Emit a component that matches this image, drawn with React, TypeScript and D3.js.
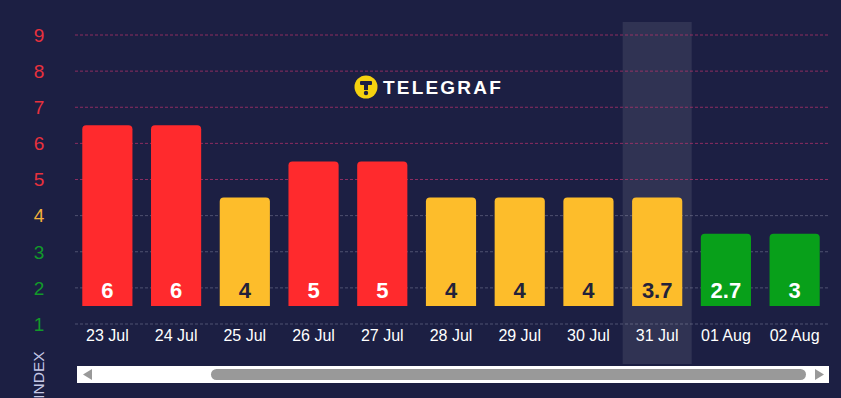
import React, { useEffect, useRef } from "react";
import * as d3 from "d3";

const dates = ["23 Jul", "24 Jul", "25 Jul", "26 Jul", "27 Jul", "28 Jul", "29 Jul", "30 Jul", "31 Jul", "01 Aug", "02 Aug"];
const values = [6, 6, 4, 5, 5, 4, 4, 4, 3.7, 2.7, 3];
const levels = [6, 6, 4, 5, 5, 4, 4, 4, 4, 3, 3];
const yTicks = [1, 2, 3, 4, 5, 6, 7, 8, 9];
const highlighted = "31 Jul";

const RED = "#ff2a2d";
const YELLOW = "#fdbd2b";
const GREEN = "#08a01a";

function levelColor(l: number) {
  if (l >= 5) return RED;
  if (l >= 4) return YELLOW;
  return GREEN;
}
function tickColor(t: number) {
  if (t >= 5) return "#e8313d";
  if (t >= 4) return "#f3b13a";
  return "#129a2a";
}

const W = 841;
const H = 398;

export default function App() {
  const ref = useRef<SVGSVGElement>(null);

  useEffect(() => {
    if (!ref.current) return;
    const svg = d3.select(ref.current);
    svg.selectAll("*").remove();

    const font = "Arial, 'Liberation Sans', sans-serif";

    svg.append("rect").attr("width", W).attr("height", H).attr("fill", "#1c1f43");

    const x = d3.scaleBand().domain(dates).range([73, 829]).paddingInner(0.27).paddingOuter(0.135);
    const y = d3.scaleLinear().domain([1, 9]).range([324, 35]);

    // highlight band
    const hx = x(highlighted)! + x.bandwidth() / 2;
    svg.append("rect")
      .attr("x", hx - 34.5).attr("width", 69)
      .attr("y", 22).attr("height", 342)
      .attr("fill", "rgba(255,255,255,0.09)");

    // grid lines
    svg.append("g").selectAll("line").data(yTicks).enter().append("line")
      .attr("x1", 75).attr("x2", 830)
      .attr("y1", (d) => y(d)).attr("y2", (d) => y(d))
      .attr("stroke", (d) => (d >= 5 ? "rgba(190,50,110,0.7)" : "rgba(200,200,220,0.3)"))
      .attr("stroke-width", 1)
      .attr("stroke-dasharray", "3,2");

    // y labels
    svg.append("g").selectAll("text").data(yTicks).enter().append("text")
      .attr("x", 39).attr("y", (d) => y(d))
      .attr("dy", "0.36em")
      .attr("text-anchor", "middle")
      .attr("fill", (d) => tickColor(d))
      .attr("font-family", font).attr("font-size", 19)
      .text((d) => d);

    // INDEX label
    svg.append("text")
      .attr("transform", `translate(44, 375) rotate(-90)`)
      .attr("text-anchor", "middle")
      .attr("fill", "#c5c8e6")
      .attr("font-family", font).attr("font-size", 15.5)
      .text("INDEX");

    // logo
    const logo = svg.append("g").attr("transform", "translate(366, 87)");
    logo.append("circle").attr("r", 11.5).attr("fill", "#f5d20f");
    logo.append("rect").attr("x", -6).attr("y", -6).attr("width", 12).attr("height", 4).attr("rx", 1).attr("fill", "#1c1f43");
    logo.append("rect").attr("x", -2).attr("y", -3).attr("width", 4).attr("height", 6).attr("fill", "#1c1f43");
    logo.append("circle").attr("cy", 6).attr("r", 2.2).attr("fill", "#1c1f43");
    svg.append("text")
      .attr("x", 383).attr("y", 94)
      .attr("fill", "#ffffff")
      .attr("font-family", font).attr("font-weight", "bold").attr("font-size", 19)
      .attr("letter-spacing", 2.2)
      .text("TELEGRAF");

    // bars
    const bars = svg.append("g").selectAll("g").data(dates).enter().append("g");
    bars.append("path")
      .attr("d", (d, i) => {
        const x0 = x(d)!;
        const w = x.bandwidth();
        const top = y(levels[i] + 0.5);
        const bot = y(1.5);
        const r = 4;
        return `M${x0},${bot}V${top + r}Q${x0},${top} ${x0 + r},${top}H${x0 + w - r}Q${x0 + w},${top} ${x0 + w},${top + r}V${bot}Z`;
      })
      .attr("fill", (d, i) => levelColor(levels[i]));
    bars.append("text")
      .attr("x", (d) => x(d)! + x.bandwidth() / 2)
      .attr("y", y(2) + 10)
      .attr("text-anchor", "middle")
      .attr("fill", (d, i) => (levels[i] === 4 ? "#22223a" : "#ffffff"))
      .attr("font-family", font).attr("font-weight", "bold").attr("font-size", 22)
      .text((d, i) => values[i]);

    // x labels
    svg.append("g").selectAll("text").data(dates).enter().append("text")
      .attr("x", (d) => x(d)! + x.bandwidth() / 2)
      .attr("y", 341)
      .attr("text-anchor", "middle")
      .attr("fill", "#ffffff")
      .attr("font-family", font).attr("font-size", 16)
      .text((d) => d);

    // scrollbar
    svg.append("rect").attr("x", 77).attr("y", 366).attr("width", 752).attr("height", 17).attr("fill", "#ffffff");
    svg.append("rect").attr("x", 211).attr("y", 369).attr("width", 595).attr("height", 11).attr("rx", 5.5).attr("fill", "#999999");
    svg.append("path").attr("d", "M83,374.5L92,369V380Z").attr("fill", "#999999");
    svg.append("path").attr("d", "M824,374.5L815,369V380Z").attr("fill", "#999999");
  }, []);

  return (
    <div style={{ position: "absolute", left: 0, top: 0 }}>
      <svg ref={ref} width={W} height={H} style={{ display: "block" }} />
    </div>
  );
}
